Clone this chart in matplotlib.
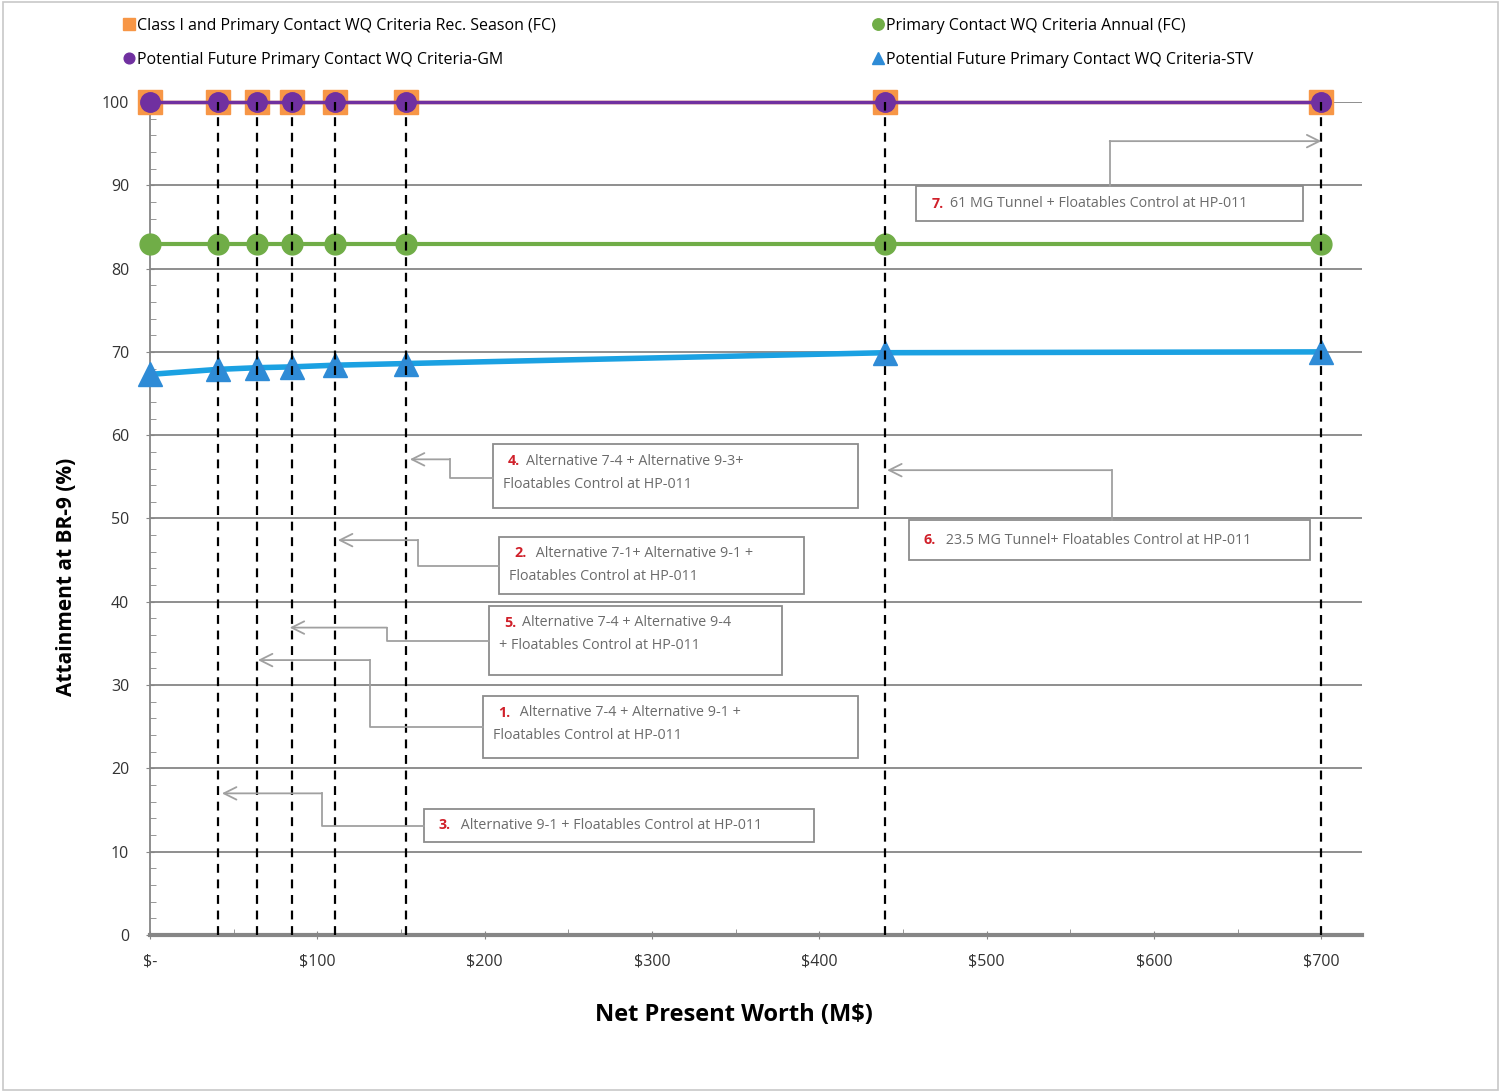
import matplotlib.pyplot as plt
from matplotlib.patches import Rectangle
from matplotlib.ticker import MultipleLocator, FuncFormatter

plt.rcParams['font.family'] = ['Open Sans', 'DejaVu Sans']

# net present worth of each alternative (M$)
npw = [0, 40.6, 63.9, 84.8, 110.5, 152.9, 439, 700]
rec_season = [100, 100, 100, 100, 100, 100, 100, 100]
annual = [83, 83, 83, 83, 83, 83, 83, 83]
future_gm = [100, 100, 100, 100, 100, 100, 100, 100]
future_stv = [67.3, 67.9, 68.1, 68.2, 68.4, 68.6, 69.9, 70.0]

series_names = ['Class I and Primary Contact WQ Criteria Rec. Season (FC)',
                'Potential Future Primary Contact WQ Criteria-GM',
                'Primary Contact WQ Criteria Annual (FC)',
                'Potential Future Primary Contact WQ Criteria-STV']

# callouts: number, text lines, box (x0, x1, y0, y1), connector path (last point = arrow tip)
callouts = [
    ('7.', ['61 MG Tunnel + Floatables Control at HP-011'],
     (458, 689, 85.7, 89.9), [(573.5, 89.9), (573.5, 95.3), (700, 95.3)]),
    ('4.', ['Alternative 7-4 + Alternative 9-3+', 'Floatables Control at HP-011'],
     (205, 423, 51.3, 58.9), [(205, 54.9), (179, 54.9), (179, 57.1), (155.3, 57.1)]),
    ('2.', [' Alternative 7-1+ Alternative 9-1 +', 'Floatables Control at HP-011'],
     (208.5, 391, 40.9, 47.8), [(208.5, 44.3), (160, 44.3), (160, 47.4), (112.3, 47.4)]),
    ('5.', ['Alternative 7-4 + Alternative 9-4', '+ Floatables Control at HP-011'],
     (202.5, 377.5, 31.2, 39.5), [(202.5, 35.3), (141.6, 35.3), (141.6, 36.9), (83.5, 36.9)]),
    ('1.', [' Alternative 7-4 + Alternative 9-1 +', 'Floatables Control at HP-011'],
     (199, 423, 21.2, 28.7), [(199, 25.0), (131.4, 25.0), (131.4, 33.0), (64.5, 33.0)]),
    ('3.', [' Alternative 9-1 + Floatables Control at HP-011'],
     (163.7, 396.7, 11.2, 15.1), [(163.7, 13.1), (102.7, 13.1), (102.7, 17.0), (43, 17.0)]),
    ('6.', [' 23.5 MG Tunnel+ Floatables Control at HP-011'],
     (453.4, 693, 45.0, 49.8), [(574.7, 49.8), (574.7, 55.8), (440.5, 55.8)]),
]

fig = plt.figure(figsize=(15.01, 10.92), dpi=100)
ax = fig.add_axes([0.0999, 0.1438, 0.8072, 0.7628])

ax.set_xlim(0, 724)
ax.set_ylim(0, 100)

for y in range(10, 101, 10):
    ax.axhline(y, color='#868686', lw=1.3, zorder=1)

h1, = ax.plot(npw, rec_season, color='#F79646', lw=2.5, marker='s', ms=17,
              mec='#F79646', zorder=3, clip_on=False)
h2, = ax.plot(npw, future_gm, color='#7030A0', lw=2.5, marker='o', ms=14,
              mec='#7030A0', zorder=4, clip_on=False)
h3, = ax.plot(npw, annual, color='#70AD47', lw=3, marker='o', ms=15,
              mec='#70AD47', zorder=3, clip_on=False)
ax.plot(npw, future_stv, color='#1BA1E2', lw=4, zorder=3)
h4, = ax.plot(npw, future_stv, color='#1BA1E2', lw=0, marker='^', ms=17,
              mfc='#2E8BD6', mec='#2E8BD6', zorder=3, clip_on=False)

# drop lines
for x, top in zip(npw[1:], rec_season[1:]):
    ax.plot([x, x], [0, top], color='black', lw=1.6, ls=(0, (4, 3)), zorder=5)

fs = 10.3
for num, lines, (x0, x1, y0, y1), path in callouts:
    ax.add_patch(Rectangle((x0, y0), x1 - x0, y1 - y0, fill=False,
                           ec='#8c8c8c', lw=1.3, zorder=6))
    xs = [p[0] for p in path]
    ys = [p[1] for p in path]
    ax.plot(xs[:-1], ys[:-1], color='#a0a0a0', lw=1.3, zorder=6)
    ax.annotate('', xy=path[-1], xytext=path[-2],
                arrowprops=dict(arrowstyle='->,head_length=0.9,head_width=0.45',
                                color='#a0a0a0', lw=1.3, shrinkA=0, shrinkB=0),
                zorder=6)
    tx = x0 + 9
    if len(lines) == 1:
        ty = (y0 + y1) / 2
        ax.text(tx, ty, num, color='#D0202A', fontsize=fs, fontweight='bold',
                ha='left', va='center', zorder=7)
        ax.annotate(lines[0], xy=(tx, ty), xytext=(13, 0), textcoords='offset points',
                    color='#6b6b6b', fontsize=fs, ha='left', va='center', zorder=7)
    else:
        ty1 = y1 - 2.0
        ty2 = y1 - 4.8
        ax.text(tx, ty1, num, color='#D0202A', fontsize=fs, fontweight='bold',
                ha='left', va='center', zorder=7)
        ax.annotate(lines[0], xy=(tx, ty1), xytext=(13, 0), textcoords='offset points',
                    color='#6b6b6b', fontsize=fs, ha='left', va='center', zorder=7)
        ax.text(tx - 3, ty2, lines[1], color='#6b6b6b', fontsize=fs,
                ha='left', va='center', zorder=7)

ax.xaxis.set_major_locator(MultipleLocator(100))
ax.xaxis.set_minor_locator(MultipleLocator(50))
ax.yaxis.set_major_locator(MultipleLocator(10))
ax.yaxis.set_minor_locator(MultipleLocator(2))
ax.xaxis.set_major_formatter(FuncFormatter(lambda v, p: '$-' if v == 0 else '${:.0f}'.format(v)))

ax.tick_params(axis='both', which='major', labelsize=11.5, colors='#868686',
               labelcolor='#333333', length=6, direction='inout')
ax.tick_params(axis='both', which='minor', colors='#868686', length=4, direction='in')
ax.tick_params(axis='x', which='major', pad=10)
ax.tick_params(axis='y', which='major', pad=12)

for s in ['top', 'right']:
    ax.spines[s].set_visible(False)
ax.spines['bottom'].set_color('#868686')
ax.spines['bottom'].set_linewidth(3)
ax.spines['left'].set_color('#868686')
ax.spines['left'].set_linewidth(1.3)

ax.set_xlabel('Net Present Worth (M$)', fontsize=17, fontweight='bold')
ax.set_ylabel('Attainment at BR-9 (%)', fontsize=15, fontweight='bold')
ax.xaxis.set_label_coords(0.482, -0.082)
ax.yaxis.set_label_coords(-0.06, 0.43)

leg_kw = dict(loc='upper left', frameon=False, fontsize=11.5, handletextpad=0.1,
              handlelength=0.8, labelspacing=1.15, markerscale=0.55)
fig.legend([h1, h2], series_names[:2], bbox_to_anchor=(0.072, 0.997), **leg_kw)
fig.legend([h3, h4], series_names[2:], bbox_to_anchor=(0.571, 0.997), **leg_kw)
for lg in fig.legends:
    for line in lg.get_lines():
        line.set_linestyle('none')

fig.add_artist(Rectangle((0.002, 0.002), 0.996, 0.996, transform=fig.transFigure,
                         fill=False, ec='#c8c8c8', lw=1.2))

fig.savefig('out.png', dpi=100)
